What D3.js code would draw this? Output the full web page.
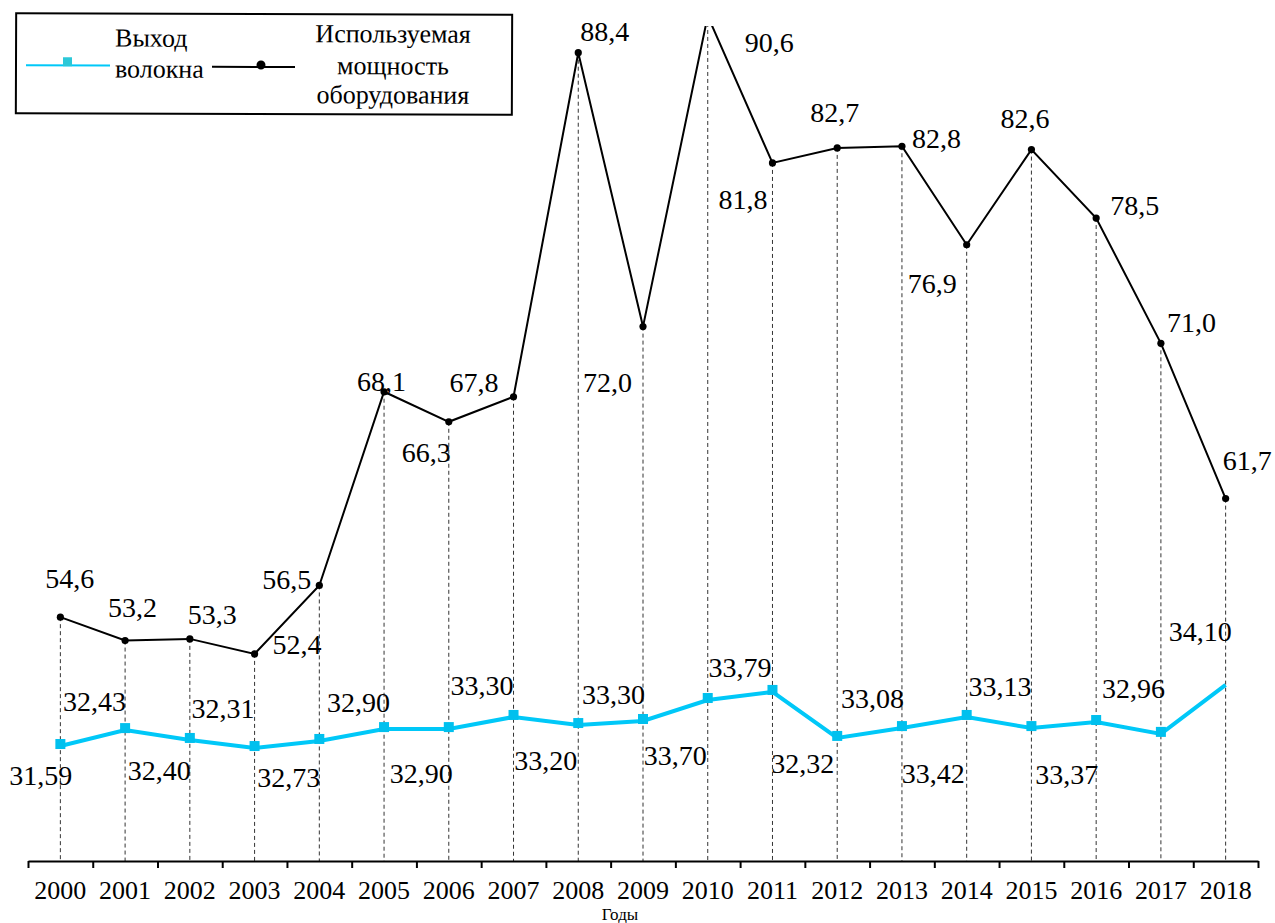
<!DOCTYPE html>
<html>
<head>
<meta charset="utf-8">
<script src="https://cdn.jsdelivr.net/npm/d3@7/dist/d3.min.js"></script>
<style>
  html, body { margin: 0; padding: 0; background: #fff; }
  svg { display: block; }
</style>
</head>
<body>
<svg id="chart" width="1275" height="923"></svg>
<script>
// ---------- data ----------
const years = ["2000","2001","2002","2003","2004","2005","2006","2007","2008","2009",
               "2010","2011","2012","2013","2014","2015","2016","2017","2018"];
// Используемая мощность оборудования (black line)
const capacity = [54.6, 53.2, 53.3, 52.4, 56.5, 68.1, 66.3, 67.8, 88.4, 72.0,
                  90.6, 81.8, 82.7, 82.8, 76.9, 82.6, 78.5, 71.0, 61.7];
// Выход волокна (cyan line) — heights
const fiberYield = [32.11, 32.74, 32.35, 32.03, 32.31, 32.78, 32.78, 33.26, 32.94, 33.10,
                    33.93, 34.25, 32.43, 32.82, 33.26, 32.82, 33.06, 32.59, 34.53];
// value labels printed next to the cyan line
const fiberYieldLabels = ["31,59","32,43","32,40","32,31","32,73","32,90","32,90","33,30","33,20","33,30",
                          "33,70","33,79","32,32","33,08","33,42","33,13","33,37","32,96","34,10"];
const seriesNames = ["Выход волокна", "Используемая мощность оборудования"];
const axisTitle = "Годы";

// ---------- layout (label offsets relative to their points) ----------
const capLabelOffsets = [[-15,-29],[-17,-24],[-2,-15],[18,0],[-57,4],[-27,-1],[-47,40],[-64,-5],[2,-12],[-60,65],
                         [37,26],[-54,46],[-27,-26],[10,2],[-59,48],[-31,-22],[14,-3],[6,-11],[-3,-29]];
const fibLabelOffsets = [[-51,39],[-62,-19],[-62,40],[-63,-30],[-62,46],[-57,-17],[-59,54],[-63,-22],[-64,45],[-61,-17],
                         [-64,65],[-64,-15],[-66,35],[-61,-20],[-65,66],[-63,-32],[-61,62],[-59,-36],[-57,-44]];

const FONT = "'Liberation Serif', 'DejaVu Serif', 'Times New Roman', serif";
const svg = d3.select("#chart").attr("font-family", FONT);
const mLeft = 28, mRight = 1258, mTop = 26, mBottom = 861;

const x = d3.scaleBand().domain(years).range([mLeft, mRight]).paddingInner(0).paddingOuter(0);
const xc = d => x(d) + x.bandwidth() / 2;
const xTicks = d3.scaleLinear().domain([0, years.length]).range([mLeft, mRight]);
const yCap = d3.scaleLinear().domain([40, 90]).range([mBottom, mTop]);
const yFib = d3.scaleLinear().domain([27.6, 60.6]).range([860, mTop]);

// clip for plot area
svg.append("defs").append("clipPath").attr("id", "plotClip")
  .append("rect").attr("x", 0).attr("y", mTop).attr("width", 1275).attr("height", mBottom - mTop);

const plot = svg.append("g").attr("clip-path", "url(#plotClip)");

// dashed drop lines
plot.append("g").selectAll("line").data(years).join("line")
  .attr("x1", d => xc(d)).attr("x2", d => xc(d))
  .attr("y1", (d, i) => yCap(capacity[i])).attr("y2", mBottom)
  .attr("stroke", "#333").attr("stroke-width", 1).attr("stroke-dasharray", "4,3");

// black line
const capData = years.map((d, i) => ({ year: d, v: capacity[i] }));
plot.append("path").datum(capData)
  .attr("fill", "none").attr("stroke", "#000").attr("stroke-width", 2)
  .attr("d", d3.line().x(d => xc(d.year)).y(d => yCap(d.v)));
plot.append("g").selectAll("circle").data(capData).join("circle")
  .attr("cx", d => xc(d.year)).attr("cy", d => yCap(d.v)).attr("r", 3.6).attr("fill", "#000");

// cyan line
const fibData = years.map((d, i) => ({ year: d, v: fiberYield[i] }));
plot.append("path").datum(fibData)
  .attr("fill", "none").attr("stroke", "#00C8F8").attr("stroke-width", 4).attr("stroke-linejoin", "miter")
  .attr("d", d3.line().x(d => xc(d.year)).y(d => yFib(d.v)));
plot.append("g").selectAll("rect").data(fibData.slice(0, fibData.length - 1)).join("rect")
  .attr("x", d => xc(d.year) - 5).attr("y", d => yFib(d.v) - 7).attr("width", 10).attr("height", 10)
  .attr("fill", "#00C0EE");

// value labels
svg.append("g").selectAll("text").data(capData).join("text")
  .attr("font-family", FONT)
  .attr("x", (d, i) => xc(d.year) + capLabelOffsets[i][0])
  .attr("y", (d, i) => yCap(Math.min(d.v, 90)) + capLabelOffsets[i][1])
  .attr("font-size", 28)
  .text(d => d.v.toFixed(1).replace(".", ","));

svg.append("g").selectAll("text").data(fibData).join("text")
  .attr("font-family", FONT)
  .attr("x", (d, i) => xc(d.year) + fibLabelOffsets[i][0])
  .attr("y", (d, i) => yFib(d.v) + fibLabelOffsets[i][1])
  .attr("font-size", 28)
  .text((d, i) => fiberYieldLabels[i]);

// x axis
const axisG = svg.append("g").attr("transform", `translate(0,${mBottom})`)
  .call(d3.axisBottom(xTicks).tickValues(d3.range(years.length + 1)).tickFormat("").tickSize(7).tickSizeOuter(0));
axisG.select(".domain").attr("stroke", "#000").attr("stroke-width", 2);
axisG.selectAll(".tick line").attr("stroke", "#000").attr("stroke-width", 2);

svg.append("g").selectAll("text").data(years).join("text")
  .attr("font-family", FONT)
  .attr("x", d => xc(d)).attr("y", 899)
  .attr("text-anchor", "middle").attr("font-size", 26)
  .text(d => d);

svg.append("text").attr("font-family", FONT).attr("x", 620).attr("y", 919.5).attr("text-anchor", "middle")
  .attr("font-size", 17).text(axisTitle);

// legend
const lg = svg.append("g").attr("transform", "rotate(0.2, 264, 64)");
lg.append("rect").attr("x", 16).attr("y", 14).attr("width", 496).attr("height", 100)
  .attr("fill", "#fff").attr("stroke", "#000").attr("stroke-width", 2);
lg.append("line").attr("x1", 26).attr("x2", 110).attr("y1", 66).attr("y2", 66)
  .attr("stroke", "#00C8F8").attr("stroke-width", 2);
lg.append("rect").attr("x", 63).attr("y", 58).attr("width", 9).attr("height", 9).attr("fill", "#2CC8D8");
lg.append("text").attr("font-family", FONT).attr("x", 115).attr("y", 47).attr("font-size", 26).text("Выход");
lg.append("text").attr("font-family", FONT).attr("x", 115).attr("y", 78).attr("font-size", 26).text("волокна");
lg.append("line").attr("x1", 212).attr("x2", 295).attr("y1", 67).attr("y2", 67)
  .attr("stroke", "#000").attr("stroke-width", 2);
lg.append("circle").attr("cx", 261).attr("cy", 65).attr("r", 4.5).attr("fill", "#000");
const capName = ["Используемая", "мощность", "оборудования"];
lg.selectAll("text.cap").data(capName).join("text").attr("class", "cap")
  .attr("font-family", FONT)
  .attr("x", 393).attr("y", (d, i) => [42, 74, 103][i])
  .attr("text-anchor", "middle").attr("font-size", 26).text(d => d);
</script>
</body>
</html>
